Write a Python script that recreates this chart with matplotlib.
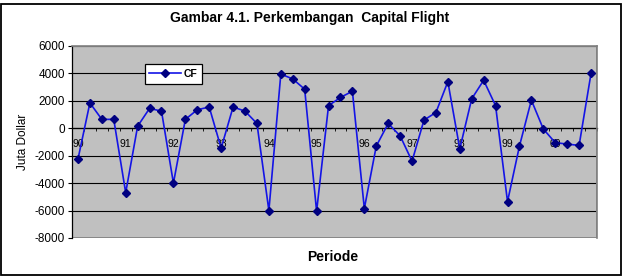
import matplotlib
matplotlib.use("Agg")
import matplotlib.pyplot as plt
from matplotlib.patches import Rectangle

plt.rcParams['font.family'] = ['Liberation Sans', 'DejaVu Sans']

# quarterly capital flight, 1990Q1 - 2000Q4 (juta dollar)
year_labels = ['90', '91', '92', '93', '94', '95', '96', '97', '98', '99', '00']
cf = [-2250, 1850, 650, 650, -4700, 150, 1450, 1250, -4000, 650,
      1350, 1550, -1450, 1550, 1250, 350, -6000, 3950, 3600, 2850,
      -6050, 1650, 2250, 2700, -5850, -1300, 350, -550, -2400, 600,
      1150, 3400, -1500, 2150, 3500, 1650, -5350, -1300, 2050, -50,
      -1050, -1150, -1250, 4000]
y_ticks = [6000, 4000, 2000, 0, -2000, -4000, -6000, -8000]

fig = plt.figure(figsize=(6.32, 2.80), dpi=100)
ax = fig.add_axes([72 / 632, 1 - 238 / 280, 525 / 632, 192 / 280])

x = list(range(len(cf)))
ax.set_facecolor('#C0C0C0')
ax.plot(x, cf, color='#1414E6', linewidth=1.2, marker='D', markersize=4.2,
        markerfacecolor='#000080', markeredgecolor='#000080', label='CF', zorder=3)

ax.set_xlim(-0.5, len(cf) - 0.5)
ax.set_ylim(-8000, 6000)
ax.set_yticks(y_ticks)
ax.set_yticklabels([str(v) for v in y_ticks], fontsize=8.5)
ax.yaxis.grid(True, color='black', linewidth=0.8)
ax.set_axisbelow(True)

# category axis crossing at zero
ax.spines['bottom'].set_position(('data', 0))
ax.spines['bottom'].set_color('black')
ax.spines['bottom'].set_linewidth(0.9)
ax.spines['bottom'].set_zorder(2)
ax.set_xticks(x[::4])
ax.set_xticklabels(year_labels, fontsize=7.5, family=['Liberation Sans Narrow', 'Liberation Sans'])
ax.set_xticks([i - 0.5 for i in range(len(cf) + 1)], minor=True)
ax.tick_params(axis='x', which='major', length=0, pad=7.5)
ax.tick_params(axis='x', which='minor', length=2.5, direction='out', color='black')
ax.tick_params(axis='y', length=3, color='black', pad=2)

ax.spines['left'].set_color('black')
ax.spines['left'].set_linewidth(0.9)
for side in ['top', 'right']:
    ax.spines[side].set_color('#808080')
    ax.spines[side].set_linewidth(1.2)
ax.add_patch(Rectangle((-0.5, -8000), len(cf), 14000, fill=False,
                       edgecolor='#808080', linewidth=1.2, zorder=1))

ax.set_ylabel('Juta Dollar', fontsize=8.5, family=['Liberation Sans Narrow', 'Liberation Sans'], labelpad=4)
fig.text(333 / 632, 1 - 257 / 280, 'Periode', fontsize=10, fontweight='bold',
         ha='center', va='center')
fig.text(310 / 632, 1 - 18 / 280, 'Gambar 4.1. Perkembangan  Capital Flight',
         fontsize=10, fontweight='bold', ha='center', va='center')

leg = ax.legend(loc='upper left', bbox_to_anchor=(0.1385, 0.905),
                prop={'weight': 'bold', 'size': 7.5}, handlelength=3.0,
                fancybox=False, framealpha=1, edgecolor='black',
                borderpad=0.45, borderaxespad=0, handletextpad=0.3)
leg.get_frame().set_linewidth(0.9)

fig.patches.append(Rectangle((1 / 632, 1 - 275 / 280), 620 / 632, 271.5 / 280,
                             transform=fig.transFigure, fill=False,
                             edgecolor='black', linewidth=1.3))

fig.savefig('out.png', dpi=100)
